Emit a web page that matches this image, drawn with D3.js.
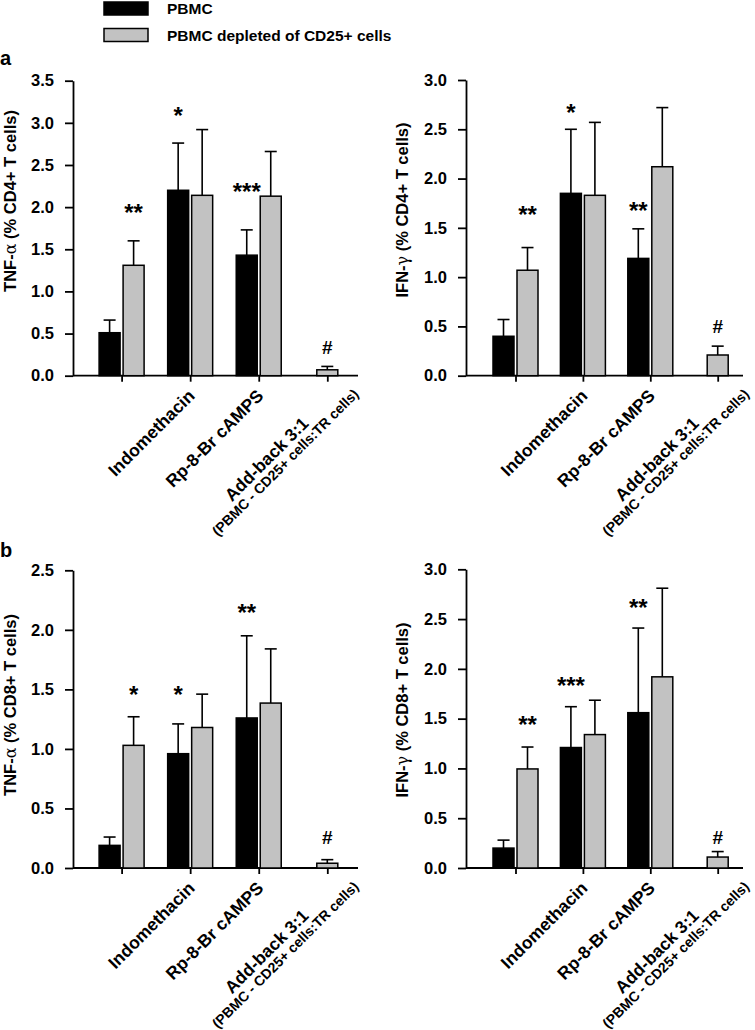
<!DOCTYPE html>
<html><head><meta charset="utf-8">
<script src="https://cdn.jsdelivr.net/npm/d3@7"></script>
<style>
body{margin:0;background:#fff}
svg text{font-family:"Liberation Sans",Arial,sans-serif;font-weight:bold;fill:#000}
</style>
</head><body>
<svg id="chart" width="755" height="1030"></svg>
<script>
// ---------------- data ----------------
const groups = ["Control", "Indomethacin", "Rp-8-Br cAMPS", "Add-back 3:1"];
const groupLabels = [[], ["Indomethacin"], ["Rp-8-Br cAMPS"], ["Add-back 3:1", "(PBMC - CD25+ cells:TR cells)"]];
const seriesNames = ["PBMC", "PBMC depleted of CD25+ cells"];
const yTicksA_TNF = [0, 0.5, 1.0, 1.5, 2.0, 2.5, 3.0, 3.5];
const yTicks30 = [0, 0.5, 1.0, 1.5, 2.0, 2.5, 3.0];
const yTicks25 = [0, 0.5, 1.0, 1.5, 2.0, 2.5];

// a) TNF-alpha, CD4+
const tnfCD4Pbmc = [0.51, 2.20, 1.43, null];
const tnfCD4PbmcHi = [0.66, 2.76, 1.73, null];
const tnfCD4Depl = [1.31, 2.14, 2.13, 0.07];
const tnfCD4DeplHi = [1.60, 2.92, 2.66, 0.11];
const tnfCD4Sig = [{g: 0, s: 1, t: "**", v: 1.99}, {g: 1, s: 0, t: "*", v: 3.15}, {g: 2, s: 0, t: "***", v: 2.245}, {g: 3, s: 1, t: "#", v: 0.34}];

// a) IFN-gamma, CD4+
const ifnCD4Pbmc = [0.40, 1.85, 1.19, null];
const ifnCD4PbmcHi = [0.57, 2.50, 1.49, null];
const ifnCD4Depl = [1.07, 1.83, 2.12, 0.21];
const ifnCD4DeplHi = [1.30, 2.57, 2.72, 0.30];
const ifnCD4Sig = [{g: 0, s: 1, t: "**", v: 1.69}, {g: 1, s: 0, t: "*", v: 2.72}, {g: 2, s: 0, t: "**", v: 1.73}, {g: 3, s: 1, t: "#", v: 0.50}];

// b) TNF-alpha, CD8+
const tnfCD8Pbmc = [0.19, 0.96, 1.26, null];
const tnfCD8PbmcHi = [0.26, 1.21, 1.95, null];
const tnfCD8Depl = [1.03, 1.18, 1.385, 0.04];
const tnfCD8DeplHi = [1.27, 1.46, 1.84, 0.07];
const tnfCD8Sig = [{g: 0, s: 1, t: "*", v: 1.50}, {g: 1, s: 0, t: "*", v: 1.50}, {g: 2, s: 0, t: "**", v: 2.19}, {g: 3, s: 1, t: "#", v: 0.26}];

// b) IFN-gamma, CD8+
const ifnCD8Pbmc = [0.20, 1.21, 1.56, null];
const ifnCD8PbmcHi = [0.28, 1.62, 2.41, null];
const ifnCD8Depl = [0.995, 1.34, 1.92, 0.11];
const ifnCD8DeplHi = [1.215, 1.685, 2.81, 0.165];
const ifnCD8Sig = [{g: 0, s: 1, t: "**", v: 1.49}, {g: 1, s: 0, t: "***", v: 1.885}, {g: 2, s: 0, t: "**", v: 2.67}, {g: 3, s: 1, t: "#", v: 0.31}];

// ---------------- layout ----------------
const svg = d3.select("#chart");
const GRAY = "#c2c2c2";

const panels = [
  {cyt: "TNF-", greek: "α", cell: "CD4+", max: 3.5, ticks: yTicksA_TNF, pbmc: tnfCD4Pbmc, pbmcHi: tnfCD4PbmcHi, depl: tnfCD4Depl, deplHi: tnfCD4DeplHi, sig: tnfCD4Sig,
   ax: 73, axEnd: 358, gx: [121.6, 327.3], top: 80.7, base: 375.7, lx: 16, lcy: 201},
  {cyt: "IFN-", greek: "γ", cell: "CD4+", max: 3.0, ticks: yTicks30, pbmc: ifnCD4Pbmc, pbmcHi: ifnCD4PbmcHi, depl: ifnCD4Depl, deplHi: ifnCD4DeplHi, sig: ifnCD4Sig,
   ax: 466, axEnd: 743, gx: [515.5, 717.7], top: 80, base: 375.7, lx: 408, lcy: 210},
  {cyt: "TNF-", greek: "α", cell: "CD8+", max: 2.5, ticks: yTicks25, pbmc: tnfCD8Pbmc, pbmcHi: tnfCD8PbmcHi, depl: tnfCD8Depl, deplHi: tnfCD8DeplHi, sig: tnfCD8Sig,
   ax: 73, axEnd: 358, gx: [121.6, 327.3], top: 570.3, base: 868, lx: 16, lcy: 705},
  {cyt: "IFN-", greek: "γ", cell: "CD8+", max: 3.0, ticks: yTicks30, pbmc: ifnCD8Pbmc, pbmcHi: ifnCD8PbmcHi, depl: ifnCD8Depl, deplHi: ifnCD8DeplHi, sig: ifnCD8Sig,
   ax: 466, axEnd: 743, gx: [515.5, 717.7], top: 569.3, base: 868, lx: 408, lcy: 710}
];

// legend
const legend = svg.append("g");
seriesNames.forEach((name, i) => {
  legend.append("rect").attr("x", 104).attr("y", 2 + i * 26.5).attr("width", 44).attr("height", 13)
    .attr("fill", i === 0 ? "#000" : GRAY).attr("stroke", "#000").attr("stroke-width", 1.5);
  legend.append("text").attr("x", 167).attr("y", 14 + i * 27).style("font-size", "15.5px").text(name);
});

// panel letters
svg.append("text").attr("x", 0).attr("y", 65).style("font-size", "20px").text("a");
svg.append("text").attr("x", 0).attr("y", 557).style("font-size", "20px").text("b");

panels.forEach(p => {
  const g = svg.append("g");
  const y = d3.scaleLinear().domain([0, p.max]).range([p.base, p.top]);
  const x = d3.scalePoint().domain(groups).range(p.gx);

  // y axis
  const ya = g.append("g").attr("transform", `translate(${p.ax},0)`)
    .call(d3.axisLeft(y).tickValues(p.ticks).tickFormat(d3.format(".1f")).tickSize(8).tickSizeOuter(0).tickPadding(11));
  ya.selectAll("path.domain").attr("stroke-width", 1.8);
  ya.selectAll(".tick line").attr("stroke-width", 1.8);
  ya.selectAll(".tick text").style("font-size", "16.5px").attr("font-family", null).attr("fill", "#000");

  // x axis
  const xa = g.append("g").attr("transform", `translate(0,${p.base})`)
    .call(d3.axisBottom(x).tickSize(6).tickFormat(""));
  xa.select("path.domain").remove();
  xa.selectAll(".tick line").attr("stroke-width", 1.8);
  xa.append("line").attr("x1", p.ax).attr("x2", p.axEnd).attr("stroke", "#000").attr("stroke-width", 1.8);

  // y label
  const yl = g.append("text").attr("transform", `translate(${p.lx},${p.lcy}) rotate(-90)`)
    .attr("text-anchor", "middle").style("font-size", "16.5px");
  yl.append("tspan").text(p.cyt);
  yl.append("tspan").style("font-family", "'DejaVu Serif','Liberation Serif',serif").style("font-weight", "normal").style("font-size", "16px").text(p.greek);
  yl.append("tspan").text(` (% ${p.cell} T cells)`);

  // bars
  const bw = 21, gap = 3;
  groups.forEach((grp, i) => {
    const vals = [
      {s: 0, v: p.pbmc[i], hi: p.pbmcHi[i]},
      {s: 1, v: p.depl[i], hi: p.deplHi[i]}
    ].filter(d => d.v !== null);
    vals.forEach((d, k) => {
      const cx = vals.length === 2 ? x(grp) + (k === 0 ? -(bw + gap) / 2 : (bw + gap) / 2) : x(grp);
      d.cx = cx;
      g.append("line").attr("x1", cx).attr("x2", cx).attr("y1", y(d.v)).attr("y2", y(d.hi))
        .attr("stroke", "#000").attr("stroke-width", 1.6);
      g.append("line").attr("x1", cx - 6).attr("x2", cx + 6).attr("y1", y(d.hi)).attr("y2", y(d.hi))
        .attr("stroke", "#000").attr("stroke-width", 1.6);
      g.append("rect").attr("x", cx - bw / 2).attr("y", y(d.v)).attr("width", bw).attr("height", y(0) - y(d.v))
        .attr("fill", d.s === 0 ? "#000" : GRAY).attr("stroke", "#000").attr("stroke-width", 1.5);
    });
    // significance marks
    p.sig.filter(m => m.g === i).forEach(m => {
      const d = vals.find(q => q.s === m.s) || vals[0];
      const isHash = m.t === "#";
      g.append("text").attr("x", d.cx).attr("y", y(m.v) + (isHash ? 6.7 : 13.4))
        .attr("text-anchor", "middle").style("font-size", isHash ? "19px" : "24px").text(m.t);
    });
    // x labels (rotated 45 degrees)
    const lines = groupLabels[i];
    if (lines.length) {
      const lg = g.append("g").attr("transform", `translate(${x(grp)},${p.base}) rotate(-45)`);
      if (lines.length === 1) {
        lg.append("text").attr("x", -11).attr("y", 19).attr("text-anchor", "end").style("font-size", "17.5px").text(lines[0]);
      } else {
        lg.append("text").attr("x", -102).attr("y", 22).attr("text-anchor", "middle").style("font-size", "17.5px").text(lines[0]);
        lg.append("text").attr("x", -91).attr("y", 36.5).attr("text-anchor", "middle").style("font-size", "14px").text(lines[1]);
      }
    }
  });
});
</script>
</body></html>
